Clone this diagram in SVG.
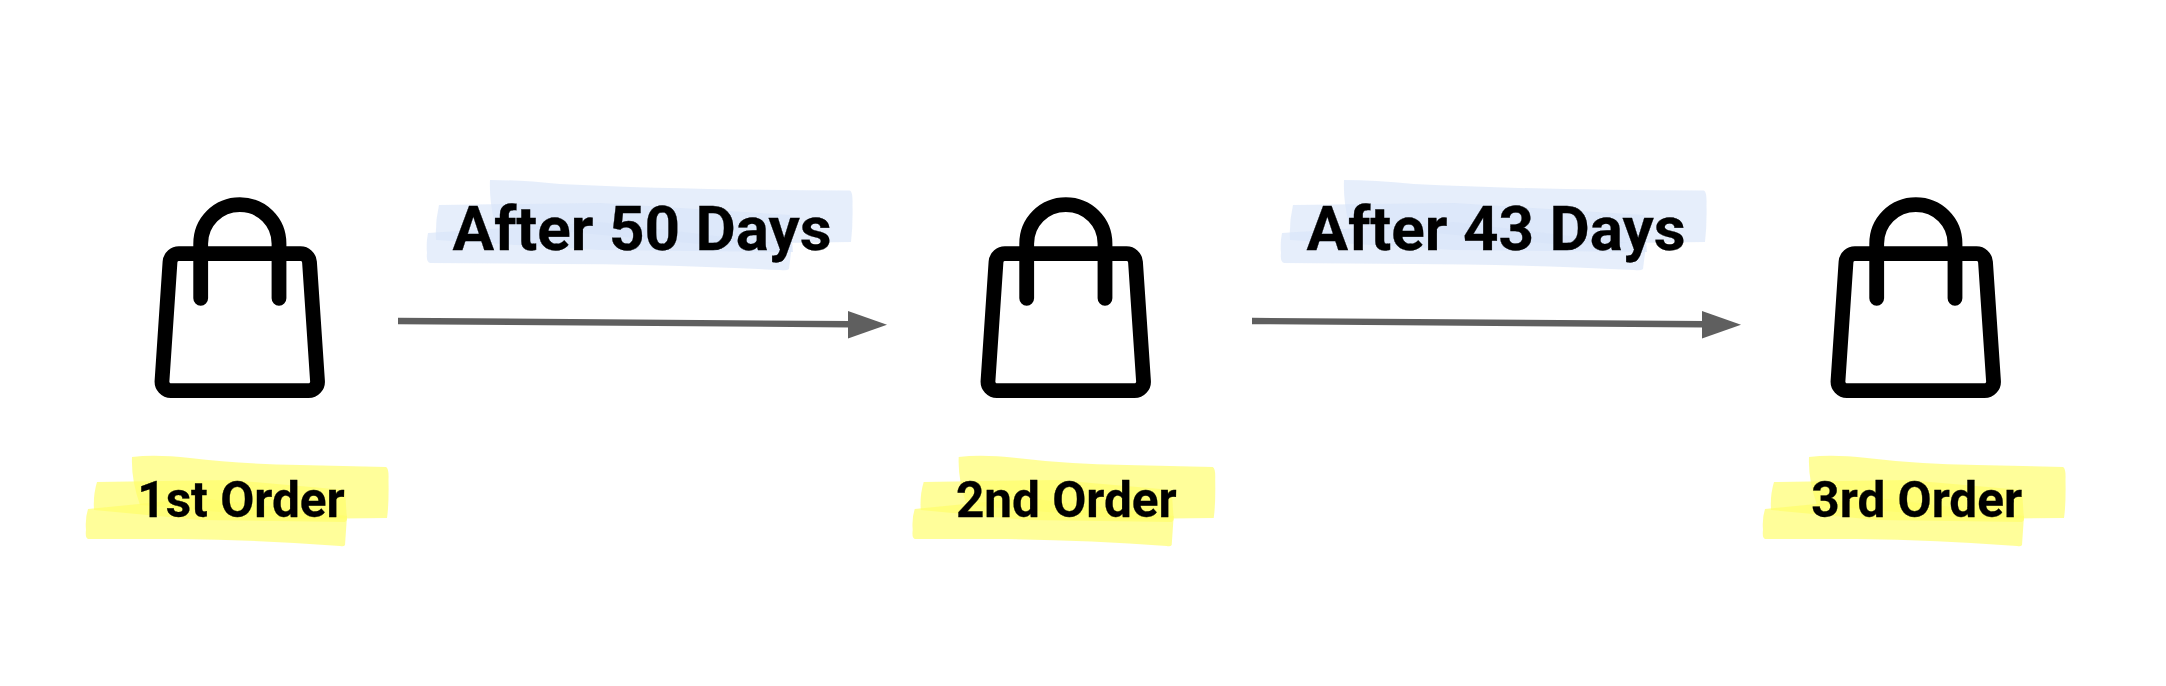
<svg xmlns="http://www.w3.org/2000/svg" width="2166" height="686" viewBox="0 0 2166 686">
<style>
.bg{fill:#fff}
.bag{fill:none;stroke:#000;stroke-width:14.8;stroke-linecap:round;stroke-linejoin:round}
.lbl{font-family:Roboto,"Liberation Sans",sans-serif;font-weight:700;fill:#000;stroke:#000;stroke-width:.3;text-anchor:middle}
.ord{font-size:49.500px}
.gap{font-size:62px}
.y{fill:#fffe6a;fill-opacity:.68}
.b{fill:#d6e4f9;fill-opacity:.62}
.line{stroke:#5f5f5f;stroke-width:6.400;fill:none}
.head{fill:#5f5f5f}
</style>
<defs>
<g id="bagShape">
<path class="bag" d="M179.500 253.700H300.500A9 9 0 0 1 309.500 262L317.500 381A9 9 0 0 1 308.500 390.700H171A9 9 0 0 1 162 381L170 262A9 9 0 0 1 179.500 253.700Z"/>
<path class="bag" d="M200.700 298.300V243.700C200.700 222 218 204.700 239.850 204.700C261.700 204.700 279 222 279 243.700V298.300"/>
</g>
<g id="yellowMark">
<path class="y" d="M132 457Q155 454 190 458Q240 464 300 465L386 467Q389 468 388.500 480Q389 505 387 518L300 519L140 505Q131 480 132 457Z"/>
<path class="y" d="M97 482L230 480L345 490L347 520L345 522L200 520L94 510Q93 495 97 482Z"/>
<path class="y" d="M88 509L200 498L347 516L345 545Q344 547 340 546Q260 540 180 539L88 539Q85 538 86 530Q85 518 88 509Z"/>
</g>
<g id="blueMark">
<path class="b" d="M490 180Q520 180 560 184Q680 190 850 190.500Q853 192 852.500 205Q853 225 851 242L700 244L495 225Q489 200 490 180Z"/>
<path class="b" d="M439 205L600 203L790 215L793 252L600 250L436 240Q435 222 439 205Z"/>
<path class="b" d="M428 233L600 222L792 245L789 269Q787 271 780 270Q650 264 560 264L430 263Q426 262 427 253Q426 243 428 233Z"/>
</g>
</defs>
<rect class="bg" width="2166" height="686"/>
<g id="connectors">
<g id="edge-1-2">
<path class="line" d="M398 321L850 324.300"/>
<path class="head" d="M848 311L887 324.700L848 338.500Z"/>
</g>
<g id="edge-2-3">
<path class="line" d="M1252 321L1704 324.300"/>
<path class="head" d="M1702 311L1741 324.700L1702 338.500Z"/>
</g>
</g>
<g id="gap-1"><use href="#blueMark"/><text class="lbl gap" x="642" y="250">After 50 Days</text></g>
<g id="gap-2"><use href="#blueMark" x="854"/><text class="lbl gap" x="1496" y="250">After 43 Days</text></g>
<g id="order-1"><use href="#bagShape"/><use href="#yellowMark"/><text class="lbl ord" x="241" y="517">1st Order</text></g>
<g id="order-2"><use href="#bagShape" x="826"/><use href="#yellowMark" x="826.700"/><text class="lbl ord" x="1066.300" y="517">2nd Order</text></g>
<g id="order-3"><use href="#bagShape" x="1676"/><use href="#yellowMark" x="1677"/><text class="lbl ord" x="1916.700" y="517">3rd Order</text></g>
</svg>
